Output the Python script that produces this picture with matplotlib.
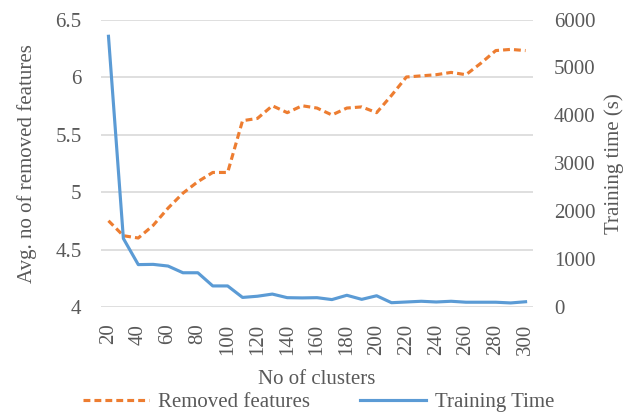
import matplotlib
matplotlib.use("Agg")
import matplotlib.pyplot as plt
import numpy as np

clusters = list(range(20, 301, 10))
removed_features = [4.75, 4.62, 4.60, 4.71, 4.86, 4.99, 5.09, 5.17, 5.17, 5.62,
                    5.64, 5.75, 5.69, 5.75, 5.73, 5.67, 5.73, 5.74, 5.69, 5.84,
                    6.00, 6.01, 6.02, 6.04, 6.02, 6.12, 6.23, 6.24, 6.23]
training_time = [5650, 1430, 885, 890, 855, 715, 715, 440, 440, 200,
                 225, 270, 195, 190, 195, 155, 245, 160, 235, 90,
                 105, 120, 105, 120, 100, 100, 100, 85, 110]
left_ticks = [4, 4.5, 5, 5.5, 6, 6.5]
left_ticklabels = ["4", "4.5", "5", "5.5", "6", "6.5"]
right_ticks = [0, 1000, 2000, 3000, 4000, 5000, 6000]

plt.rcParams['font.family'] = ['Liberation Serif', 'DejaVu Serif']
txt = '#595959'
fs = 15

fig = plt.figure(figsize=(6.24, 4.15), dpi=100)
ax = fig.add_axes([0.1619, 0.2602, 0.6923, 0.6928])
ax2 = ax.twinx()

x = np.arange(len(clusters))
ax.plot(x, removed_features, color='#ed7d31', lw=2.25, ls=(0, (2.2, 1.3)), label='Removed features', zorder=3)
ax2.plot(x, training_time, color='#5b9bd5', lw=2.25, label='Training Time', zorder=3)

ax.set_xlim(-0.5, len(clusters) - 0.5)
ax.set_ylim(4, 6.5)
ax2.set_ylim(0, 6000)
ax.set_yticks(left_ticks)
ax.set_yticklabels(left_ticklabels)
ax2.set_yticks(right_ticks)
ax.grid(axis='y', color='#d9d9d9', lw=1.2)
ax.set_axisbelow(True)

xt = [i for i, c in enumerate(clusters) if c % 20 == 0]
ax.set_xticks(xt)
ax.set_xticklabels([str(clusters[i]) for i in xt], rotation=90)

for a in (ax, ax2):
    for s in a.spines.values():
        s.set_visible(False)
    a.tick_params(length=0, colors=txt, labelsize=fs)
ax.tick_params(axis='y', pad=14)
ax2.tick_params(axis='y', pad=15)
ax.tick_params(axis='x', pad=12)

ax.set_xlabel('No of clusters', color=txt, fontsize=fs, labelpad=11)
ax.set_ylabel('Avg. no of removed features', color=txt, fontsize=fs, labelpad=13)
ax2.set_ylabel('Training time (s)', color=txt, fontsize=fs, labelpad=6)

h1, l1 = ax.get_legend_handles_labels()
h2, l2 = ax2.get_legend_handles_labels()
fig.legend(h1 + h2, l1 + l2, loc='lower center', bbox_to_anchor=(0.51, -0.038), ncol=2,
           frameon=False, fontsize=fs, labelcolor=txt, handlelength=3.2,
           columnspacing=2.4, handletextpad=0.4)

fig.savefig('out.png', dpi=100)
